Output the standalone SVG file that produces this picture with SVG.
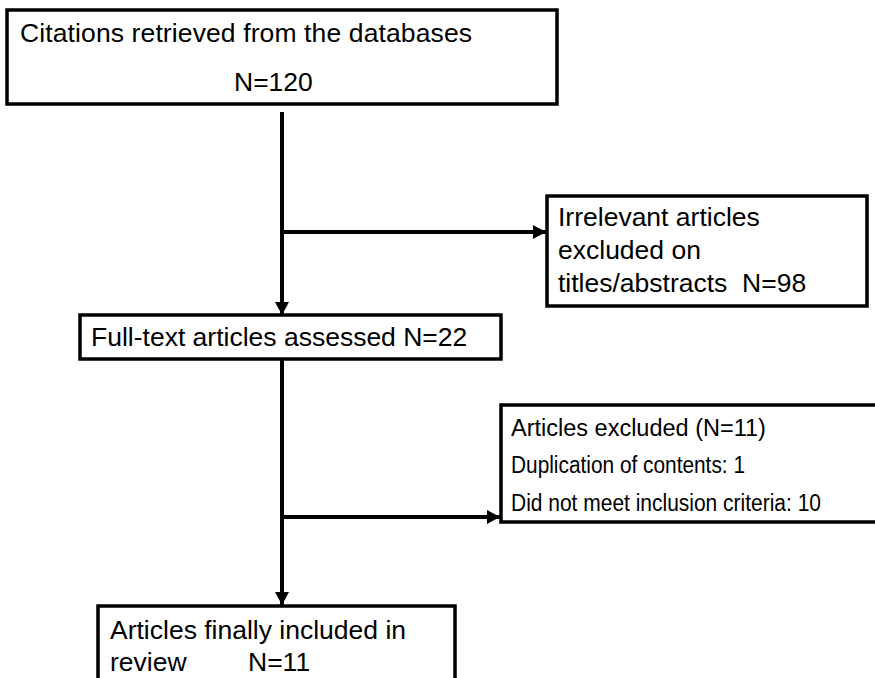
<svg xmlns="http://www.w3.org/2000/svg" width="875" height="678" viewBox="0 0 875 678">
<style>
.box{fill:#fff;stroke:#000;stroke-width:3.5}
.t{font-family:"Liberation Sans",Arial,sans-serif;font-size:26.5px;fill:#000}
.s{font-family:"Liberation Sans",Arial,sans-serif;font-size:23.5px;fill:#000}
.c{fill:none;stroke:#000;stroke-width:4}
</style>
<defs>
<marker id="ah" markerUnits="userSpaceOnUse" markerWidth="14" markerHeight="14" refX="13" refY="7" orient="auto">
<path d="M0,0 L13,7 L0,14 Z" fill="#000"/>
</marker>
</defs>
<rect width="875" height="678" fill="#fff"/>
<g id="connectors">
<line class="c" x1="282" y1="112" x2="282" y2="315" marker-end="url(#ah)"/>
<line class="c" x1="282" y1="232" x2="546" y2="232" marker-end="url(#ah)"/>
<line class="c" x1="282" y1="359" x2="282" y2="605" marker-end="url(#ah)"/>
<line class="c" x1="282" y1="517" x2="500" y2="517" marker-end="url(#ah)"/>
</g>
<g id="n1">
<rect class="box" x="7" y="10" width="550" height="94"/>
<text class="t" x="20" y="42" textLength="452">Citations retrieved from the databases</text>
<text class="t" x="234" y="91">N=120</text>
</g>
<g id="n2">
<rect class="box" x="547" y="196" width="320" height="110"/>
<text class="t" x="558" y="226">Irrelevant articles</text>
<text class="t" x="558" y="259">excluded on</text>
<text class="t" x="558" y="292">titles/abstracts&#160; N=98</text>
</g>
<g id="n3">
<rect class="box" x="80" y="315" width="421" height="44"/>
<text class="t" x="91" y="346">Full-text articles assessed N=22</text>
</g>
<g id="n4">
<rect class="box" x="501" y="405" width="380" height="117"/>
<text class="s" x="511" y="436">Articles excluded (N=11)</text>
<text class="s" x="511" y="473" textLength="234" lengthAdjust="spacingAndGlyphs">Duplication of contents: 1</text>
<text class="s" x="511" y="511" textLength="310" lengthAdjust="spacingAndGlyphs">Did not meet inclusion criteria: 10</text>
</g>
<g id="n5">
<rect class="box" x="98" y="606" width="357" height="90"/>
<text class="t" x="110" y="639">Articles finally included in</text>
<text class="t" x="110" y="671">review</text>
<text class="t" x="248" y="671">N=11</text>
</g>
</svg>
